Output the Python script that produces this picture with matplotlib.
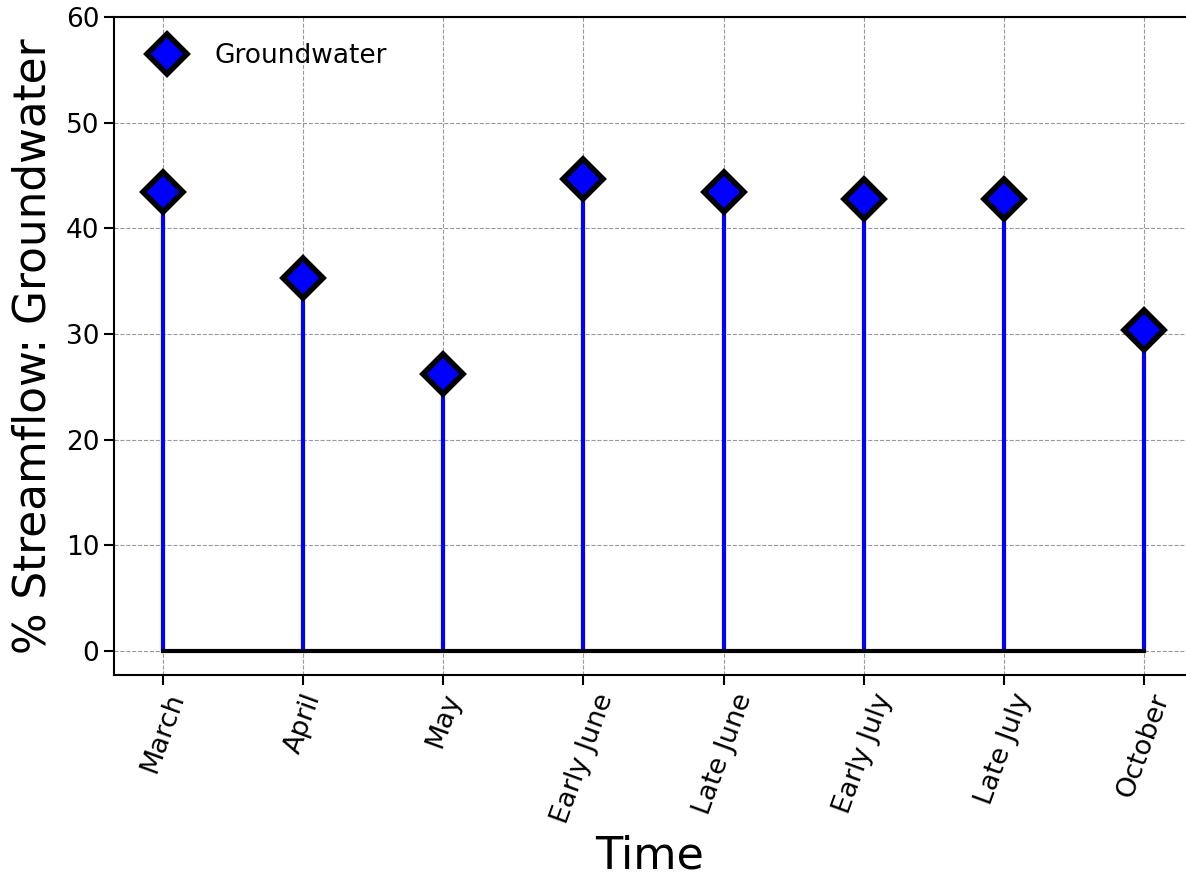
import numpy as np
import matplotlib
matplotlib.use('Agg')
import matplotlib.pyplot as plt
from matplotlib.lines import Line2D

# values
periods = ['March', 'April', 'May', 'Early June', 'Late June',
           'Early July', 'Late July', 'October']
groundwater = [43.4, 35.3, 26.2, 44.7, 43.4, 42.8, 42.8, 30.4]

x = np.arange(len(periods))

fig = plt.figure(figsize=(11.86, 8.81), dpi=100)
ax = fig.add_axes([0.0961, 0.2338, 0.9039, 0.7469])

markerline, stemlines, baseline = ax.stem(x, groundwater)
plt.setp(stemlines, color='blue', linewidth=3)
plt.setp(markerline, marker='D', markersize=20, markerfacecolor='blue',
         markeredgecolor='black', markeredgewidth=4, color='blue')
plt.setp(baseline, color='black', linewidth=3)

ax.set_xlim(-0.35, 7.3)
ax.set_ylim(-2.27, 60)
ax.set_yticks([0, 10, 20, 30, 40, 50, 60])
ax.set_xticks(x)
ax.set_xticklabels(periods, rotation=70, fontsize=19.5)
ax.tick_params(axis='y', labelsize=19)
ax.tick_params(length=7, width=1.5)
ax.grid(True, linestyle='--', color='gray', alpha=0.8)
ax.set_axisbelow(True)
for s in ax.spines.values():
    s.set_linewidth(1.5)
ax.spines['right'].set_visible(False)

ax.set_ylabel('% Streamflow: Groundwater', fontsize=31.5, labelpad=8)
ax.set_xlabel('Time', fontsize=32, labelpad=6)

handle = Line2D([], [], linestyle='none', marker='D', markersize=20,
                markerfacecolor='blue', markeredgecolor='black',
                markeredgewidth=4)
ax.legend([handle], ['Groundwater'], loc='upper left', frameon=False,
          fontsize=19, borderpad=0.5, handletextpad=0.8)

fig.savefig('out.png', dpi=100)
